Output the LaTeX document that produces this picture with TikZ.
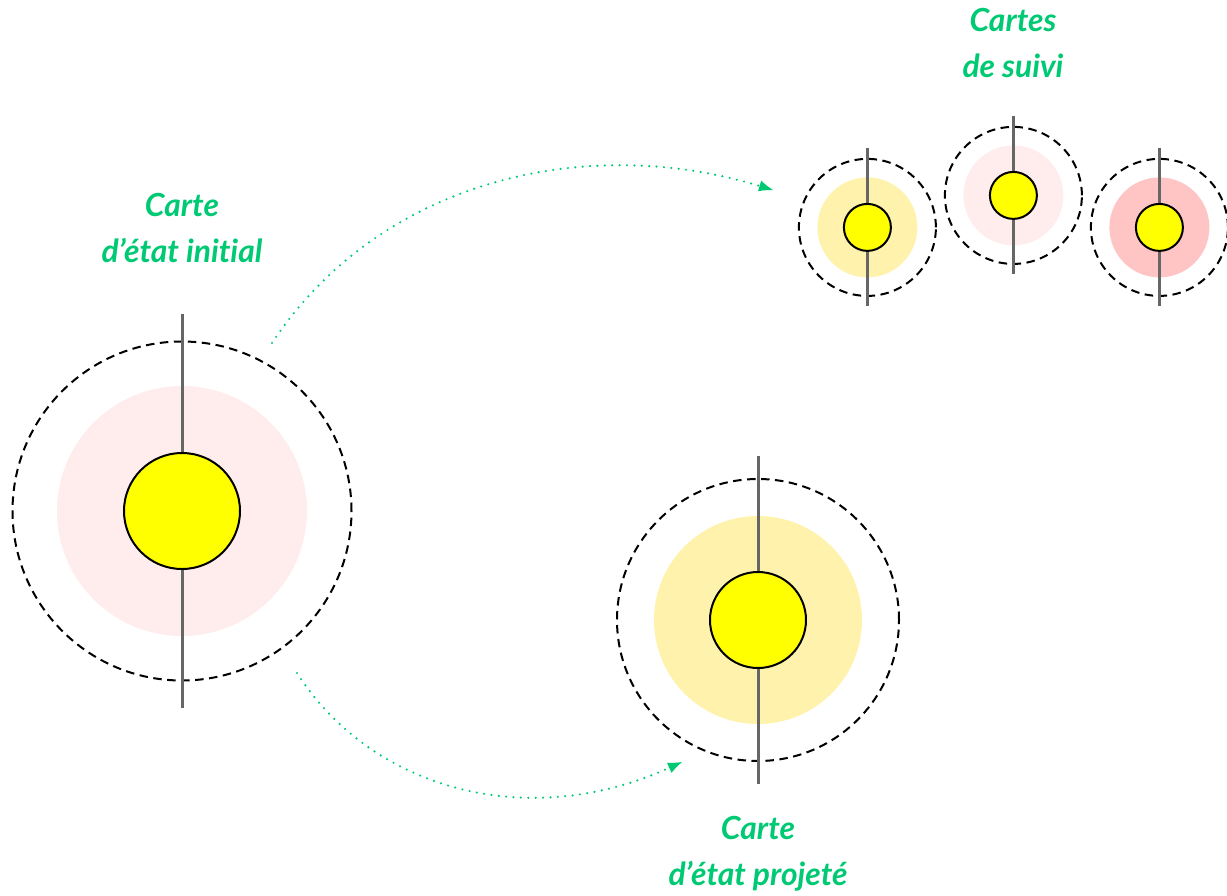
\documentclass[tikz,border=0pt]{standalone}
\usepackage{fontspec}
\setmainfont[Ligatures=NoCommon]{Lato}
\usetikzlibrary{arrows.meta}
\definecolor{lbl}{HTML}{00C974}
\definecolor{palepink}{HTML}{FFEDED}
\definecolor{paleyellow}{HTML}{FFF2AD}
\definecolor{rose}{HTML}{FFC4C4}
\definecolor{axis}{HTML}{666666}
\definecolor{sun}{HTML}{FFFF00}
\tikzset{
  halo/.style={circle,draw=none,inner sep=0pt,outer sep=0pt},
  ring/.style={circle,draw=black,line width=2pt,dash pattern=on 8.5pt off 5.5pt,inner sep=0pt,outer sep=0pt},
  core/.style={circle,draw=black,fill=sun,line width=2pt,inner sep=0pt,outer sep=0pt},
  axisline/.style={draw=axis,line width=2.3pt},
  flow/.style={draw=lbl,line width=2.4pt,line cap=round,dash pattern=on 0pt off 7.4pt,-{Latex[length=14pt,width=11pt,fill=lbl,line width=0pt,round=false]}},
  caption/.style={text=lbl,font=\fontsize{31.8}{46}\selectfont\bfseries\itshape,align=center,inner sep=0pt}
}
% name, x, y, ring diameter, halo diameter, core diameter, halo colour, axis half-length, axis x
\newcommand{\mapmark}[9]{%
  \node[ring,minimum size=#4pt] (#1ring) at (#2,#3) {};
  \node[halo,fill=#7,minimum size=#5pt] (#1halo) at (#2,#3) {};
  \coordinate (#1top) at (#9,#3-#8);
  \coordinate (#1bot) at (#9,#3+#8);
  \draw[axisline] (#1top) -- (#1bot);
  \node[core,minimum size=#6pt] (#1core) at (#2,#3) {};
}
\begin{document}
\begin{tikzpicture}[x=1pt,y=-1pt]
\useasboundingbox (0,0) rectangle (1227,895);
\mapmark{init}{182}{511}{339}{250}{116}{palepink}{197}{182.4}
\mapmark{proj}{758}{620}{282}{208}{96}{paleyellow}{164}{758.4}
\mapmark{suiviA}{867.4}{227.4}{137}{100}{47}{paleyellow}{79}{867.4}
\mapmark{suiviB}{1013.4}{195.4}{137}{100}{47}{palepink}{79}{1013.4}
\mapmark{suiviC}{1159.4}{227.4}{137}{100}{47}{rose}{79}{1159.4}
\node[caption] (capinit) at (182,228) {Carte\\d’état initial};
\node[caption] (capsuivi) at (1013,43) {Cartes\\de suivi};
\node[caption] (capproj) at (758,853.5) {Carte\\d’état projeté};
\coordinate (fromA) at (272,343);
\coordinate (toA) at (773,190);
\coordinate (fromB) at (297,673);
\coordinate (toB) at (682,762);
\draw[flow] (fromA) .. controls (380,180) and (585,133) .. (toA);
\draw[flow] (fromB) .. controls (372,790) and (528,832) .. (toB);
\end{tikzpicture}
\end{document}
